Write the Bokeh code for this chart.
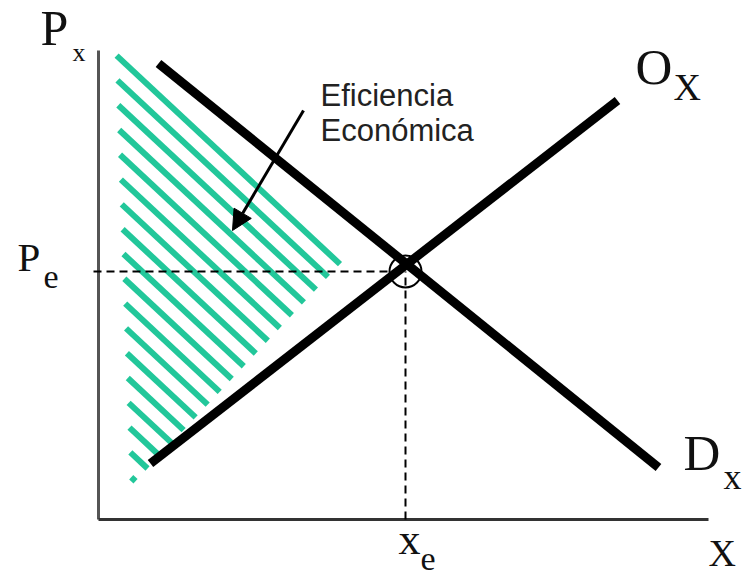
import numpy as np
from bokeh.plotting import figure
from bokeh.models import Range1d, Arrow, NormalHead
from bokeh.core.properties import value
from bokeh.embed import file_html
from bokeh.resources import INLINE

# Market diagram: quantity on x, price on y (origin at the axes corner)
demand_q = [60, 560]
demand_p = [456, 52]
supply_q = [52, 519]
supply_p = [56, 419]

# Shaded region labelled "Eficiencia Económica"
surplus_q = [18, 243, 33]
surplus_p = [467, 257, 34]

# Equilibrium point
xe = 307
pe = 248

# Axis extents
q_max = 610
p_max = 469

SERIF = value("Liberation Serif")
SANS = value("Liberation Sans")

p = figure(width=742, height=578, output_backend="svg", toolbar_location=None,
           x_range=Range1d(-98, 644), y_range=Range1d(-59, 519),
           min_border=0, outline_line_color=None, background_fill_color="white")
p.axis.visible = False
p.grid.visible = False


def stripes(poly_x, poly_y, slope, step, inset):
    """Parallel stripes y = slope*x + c clipped to a convex polygon."""
    px = np.asarray(poly_x, float)
    py = np.asarray(poly_y, float)
    cs = py - slope * px
    xs_out, ys_out = [], []
    c = cs.max() - inset
    while c > cs.min():
        pts = []
        for i in range(len(px)):
            x1, y1 = px[i], py[i]
            x2, y2 = px[(i + 1) % len(px)], py[(i + 1) % len(py)]
            f1 = y1 - slope * x1 - c
            f2 = y2 - slope * x2 - c
            if f1 * f2 <= 0 and f1 != f2:
                t = f1 / (f1 - f2)
                pts.append((x1 + t * (x2 - x1), y1 + t * (y2 - y1)))
        if len(pts) >= 2:
            pts.sort()
            xs_out.append([pts[0][0], pts[-1][0]])
            ys_out.append([pts[0][1], pts[-1][1]])
        c -= step
    return xs_out, ys_out


# hatched area: stripes run parallel to the triangle's upper edge
edge_slope = (surplus_p[1] - surplus_p[0]) / (surplus_q[1] - surplus_q[0])
hx, hy = stripes(surplus_q, surplus_p, edge_slope, 24, 3)
p.multi_line(hx, hy, line_color="#22c79a", line_width=6, line_cap="butt")

# axes
p.line([0, 0], [0, p_max], line_color="#555555", line_width=3)
p.line([0, q_max], [0, 0], line_color="#333333", line_width=3)

# guide lines to the equilibrium (the price guide pokes slightly past the axis)
p.line([-5, xe], [pe, pe], line_color="black", line_width=2, line_dash="8 5")
p.line([xe, xe], [0, pe], line_color="black", line_width=2, line_dash="8 5")

# demand and supply
p.line(demand_q, demand_p, line_color="black", line_width=9)
p.line(supply_q, supply_p, line_color="black", line_width=9)

# equilibrium marker
p.circle([xe], [pe], radius=16, fill_color=None, line_color="black", line_width=2)


def label(x, y, t, size, font=SERIF, color="#111111"):
    # y is the baseline; the svg text is anchored slightly lower, so lift it
    p.text([x], [y + 0.4 * size], text=[t], text_font=font,
           text_font_size=f"{size}px", text_color=color,
           text_baseline="alphabetic", text_align="left")


label(-58, 472, "P", 50)
label(-26, 457, "x", 26)
label(-81, 246, "P", 41)
label(-55, 229, "e", 34)
label(537, 432, "O", 51)
label(575, 417, "X", 38)
label(585, 46, "D", 51)
label(625, 28, "x", 36)
label(300, -38, "x", 44)
label(322, -53, "e", 34)
label(610, -49, "X", 38)

label(222, 412, "Eficiencia", 31, SANS, "#222222")
label(222, 377, "Económica", 31, SANS, "#222222")

p.add_layout(Arrow(x_start=205, y_start=409, x_end=134, y_end=289,
                   line_width=3, line_color="black",
                   end=NormalHead(size=20, fill_color="black", line_color="black")))

open("out.html", "w").write(file_html(p, INLINE))
